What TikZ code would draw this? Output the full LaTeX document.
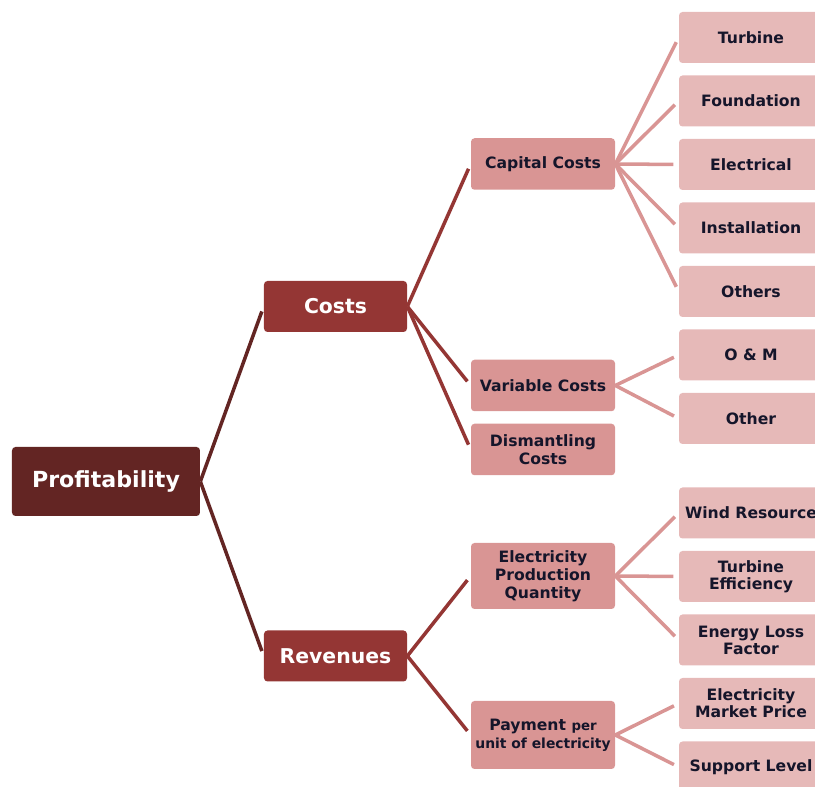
\documentclass[tikz,border=0pt]{standalone}
\usepackage{fontspec}
\setmainfont{DejaVu Sans}
\usetikzlibrary{shapes}

\definecolor{rootred}{HTML}{632523}
\definecolor{midred}{HTML}{943634}
\definecolor{lightred}{HTML}{D99594}
\definecolor{palered}{HTML}{E6B9B8}
\definecolor{textdark}{HTML}{15152A}

\begin{document}
\begin{tikzpicture}
    \tikzstyle{root}   = [rectangle, fill=rootred, text=white, font=\bfseries\fontsize{12.6}{14}\selectfont, minimum width=3.76cm, minimum height=1.38cm, rounded corners=2pt]
    \tikzstyle{branch} = [rectangle, fill=midred, text=white, font=\bfseries\fontsize{11.6}{13}\selectfont, minimum width=2.86cm, minimum height=1.02cm, rounded corners=2pt]
    \tikzstyle{sub}    = [rectangle, fill=lightred, text=textdark, font=\bfseries\fontsize{8.9}{10.2}\selectfont, align=center, minimum width=2.88cm, minimum height=1.03cm, inner sep=1pt, rounded corners=2pt]
    \tikzstyle{leaf}   = [rectangle, fill=palered, text=textdark, font=\bfseries\fontsize{8.9}{9.7}\selectfont, align=center, minimum width=2.88cm, minimum height=1.02cm, inner sep=1pt, rounded corners=2pt, node distance=1.27cm]
    \tikzstyle{line}   = [draw, line width=2pt, shorten >=3pt]

    \useasboundingbox (-2.12,-6.11) rectangle (14.18,9.63);

    % Root and first split
    \node [root] (profit) at (0,0) {Profitability};
    \node [branch] (costs) at (4.59,3.5) {Costs};
    \node [branch] (revenues) at (4.59,-3.49) {Revenues};

    % Second level
    \node [sub] (capital) at (8.74,6.35) {Capital Costs};
    \node [sub] (variable) at (8.74,1.92) {Variable Costs};
    \node [sub] (dismantle) at (8.74,0.64) {Dismantling\\Costs};
    \node [sub, minimum height=1.32cm] (production) at (8.74,-1.89) {Electricity\\Production\\Quantity};
    \node [sub, minimum height=1.36cm] (payment) at (8.74,-5.07) {Payment {\fontsize{7.6}{9}\selectfont per}\\{\fontsize{7.9}{9.6}\selectfont unit of electricity}};

    % Leaves: costs side
    \node [leaf] (turbine) at (12.9,8.88) {Turbine};
    \node [leaf, below of=turbine] (foundation) {Foundation};
    \node [leaf, below of=foundation] (electrical) {Electrical};
    \node [leaf, below of=electrical] (install) {Installation};
    \node [leaf, below of=install] (others) {Others};
    \node [leaf, below of=others] (om) {O \& M};
    \node [leaf, below of=om] (other) {Other};

    % Leaves: revenue side
    \node [leaf] (wind) at (12.9,-0.63) {Wind Resource};
    \node [leaf, below of=wind] (efficiency) {Turbine\\Efficiency};
    \node [leaf, below of=efficiency] (loss) {Energy Loss\\Factor};
    \node [leaf, below of=loss] (market) {Electricity\\Market Price};
    \node [leaf, below of=market] (support) {Support Level};

    \path [line, rootred] (profit.east) -- (costs.west);
    \path [line, rootred] (profit.east) -- (revenues.west);

    \path [line, midred] (costs.east) -- (capital.west);
    \path [line, midred] (costs.east) -- (variable.west);
    \path [line, midred] (costs.east) -- (dismantle.west);
    \path [line, midred] (revenues.east) -- (production.west);
    \path [line, midred] (revenues.east) -- (payment.west);

    \foreach \leafname in {turbine,foundation,electrical,install,others}
        \path [line, lightred] (capital.east) -- (\leafname.west);
    \foreach \leafname in {om,other}
        \path [line, lightred] (variable.east) -- (\leafname.west);
    \foreach \leafname in {wind,efficiency,loss}
        \path [line, lightred] (production.east) -- (\leafname.west);
    \foreach \leafname in {market,support}
        \path [line, lightred] (payment.east) -- (\leafname.west);
\end{tikzpicture}
\end{document}
